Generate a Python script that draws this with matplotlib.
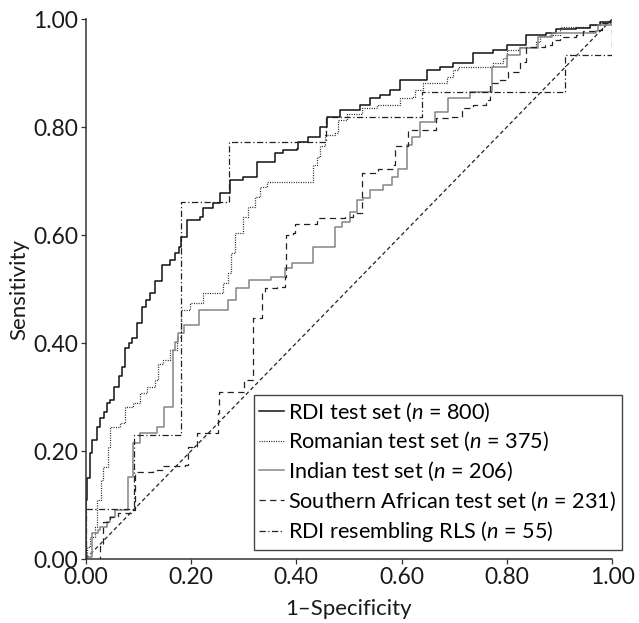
import matplotlib
matplotlib.use("Agg")
import matplotlib.pyplot as plt

plt.rcParams['font.family'] = ['Lato', 'DejaVu Sans']
plt.rcParams['mathtext.fontset'] = 'custom'
plt.rcParams['mathtext.rm'] = 'Lato'
plt.rcParams['mathtext.it'] = 'Lato:italic'

# ---- data (1-specificity, sensitivity) ----
rdi_fpr = [0.0, 0.0, 0.003, 0.009, 0.012, 0.021, 0.027, 0.034, 0.041, 0.046, 0.053, 0.063, 0.070, 0.074, 0.082, 0.088,
           0.097, 0.107, 0.115, 0.123, 0.132, 0.145, 0.161, 0.170, 0.177, 0.181, 0.192, 0.217, 0.223, 0.242,
           0.255, 0.274, 0.299, 0.325, 0.359, 0.375, 0.401, 0.403, 0.422, 0.441, 0.445, 0.458, 0.483, 0.521,
           0.540, 0.559, 0.578, 0.597, 0.648, 0.673, 0.698, 0.736, 0.774, 0.800, 0.837, 0.875, 0.894, 0.932,
           0.958, 0.977, 1.0]
rdi_tpr = [0.0, 0.109, 0.150, 0.196, 0.220, 0.244, 0.262, 0.272, 0.288, 0.294, 0.319, 0.338, 0.356, 0.390, 0.400, 0.410,
           0.437, 0.467, 0.480, 0.492, 0.514, 0.544, 0.554, 0.566, 0.578, 0.597, 0.628, 0.634, 0.650, 0.659,
           0.678, 0.702, 0.708, 0.736, 0.752, 0.757, 0.760, 0.773, 0.781, 0.782, 0.800, 0.819, 0.831, 0.841,
           0.854, 0.859, 0.869, 0.887, 0.906, 0.912, 0.918, 0.937, 0.943, 0.952, 0.970, 0.975, 0.981, 0.983,
           0.989, 0.995, 1.0]

rom_fpr = [0.0, 0.003, 0.008, 0.018, 0.021, 0.030, 0.033, 0.043, 0.046, 0.065, 0.075, 0.090, 0.103, 0.116, 0.132,
           0.138, 0.147, 0.160, 0.173, 0.182, 0.198, 0.223, 0.255, 0.261, 0.271, 0.277, 0.284, 0.299, 0.309,
           0.321, 0.331, 0.344, 0.375, 0.432, 0.439, 0.445, 0.454, 0.473, 0.480, 0.496, 0.524, 0.553, 0.591,
           0.597, 0.619, 0.625, 0.641, 0.679, 0.686, 0.698, 0.708, 0.768, 0.774, 0.793, 0.800, 0.824, 0.856,
           0.863, 0.882, 0.901, 0.958, 0.977, 1.0, 1.0]
rom_tpr = [0.0, 0.023, 0.040, 0.060, 0.109, 0.146, 0.171, 0.208, 0.245, 0.252, 0.282, 0.288, 0.307, 0.319, 0.331,
           0.362, 0.369, 0.387, 0.412, 0.461, 0.474, 0.492, 0.492, 0.511, 0.529, 0.566, 0.603, 0.634, 0.652,
           0.671, 0.689, 0.699, 0.699, 0.730, 0.745, 0.764, 0.785, 0.788, 0.813, 0.825, 0.835, 0.841, 0.841,
           0.853, 0.856, 0.869, 0.881, 0.881, 0.893, 0.906, 0.912, 0.912, 0.918, 0.927, 0.943, 0.949, 0.958,
           0.968, 0.970, 0.985, 0.989, 0.993, 0.998, 1.0]

ind_fpr = [0.0, 0.011, 0.013, 0.024, 0.027, 0.040, 0.046, 0.056, 0.081, 0.090, 0.103, 0.135, 0.148, 0.166,
           0.170, 0.176, 0.186, 0.216, 0.270, 0.285, 0.311, 0.350, 0.353, 0.378, 0.391, 0.432, 0.473, 0.486,
           0.502, 0.515, 0.527, 0.541, 0.565, 0.581, 0.594, 0.610, 0.619, 0.635, 0.651, 0.663, 0.689, 0.730,
           0.771, 0.796, 0.800, 0.821, 0.825, 0.856, 0.859, 0.882, 0.885, 0.970, 0.973, 1.0, 1.0]
ind_tpr = [0.004, 0.004, 0.048, 0.054, 0.060, 0.069, 0.078, 0.091, 0.152, 0.214, 0.233, 0.245, 0.282, 0.387,
           0.402, 0.418, 0.433, 0.461, 0.480, 0.501, 0.517, 0.517, 0.523, 0.538, 0.548, 0.578, 0.615, 0.625,
           0.643, 0.665, 0.668, 0.683, 0.693, 0.708, 0.723, 0.767, 0.782, 0.810, 0.810, 0.828, 0.853, 0.864,
           0.912, 0.912, 0.933, 0.933, 0.946, 0.946, 0.966, 0.966, 0.975, 0.978, 0.989, 0.989, 1.0]

saf_fpr = [0.0, 0.027, 0.033, 0.046, 0.062, 0.090, 0.094, 0.128, 0.147, 0.189, 0.195, 0.211, 0.237, 0.252,
           0.254, 0.287, 0.301, 0.317, 0.335, 0.341, 0.363, 0.378, 0.380, 0.394, 0.398, 0.420, 0.439, 0.492,
           0.508, 0.524, 0.524, 0.556, 0.584, 0.587, 0.606, 0.613, 0.651, 0.666, 0.692, 0.714, 0.736, 0.761,
           0.768, 0.783, 0.803, 0.821, 0.825, 0.837, 0.872, 0.885, 0.901, 0.932, 0.945, 0.970, 0.980, 1.0]
saf_tpr = [0.0, 0.026, 0.069, 0.078, 0.085, 0.091, 0.162, 0.165, 0.173, 0.174, 0.208, 0.233, 0.233, 0.270,
           0.310, 0.310, 0.331, 0.446, 0.492, 0.501, 0.504, 0.523, 0.600, 0.603, 0.620, 0.620, 0.631, 0.633,
           0.640, 0.668, 0.714, 0.723, 0.730, 0.764, 0.764, 0.794, 0.794, 0.816, 0.819, 0.835, 0.841, 0.850,
           0.881, 0.887, 0.902, 0.902, 0.921, 0.949, 0.952, 0.961, 0.967, 0.970, 0.978, 0.980, 0.993, 1.0]

rls_fpr = [0.0, 0.0, 0.091, 0.181, 0.272, 0.456, 0.638, 0.910, 0.990, 1.0]
rls_tpr = [0.0, 0.092, 0.230, 0.661, 0.773, 0.819, 0.864, 0.933, 0.933, 1.0]

labels = ['RDI test set ($n$ = 800)', 'Romanian test set ($n$ = 375)', 'Indian test set ($n$ = 206)',
          'Southern African test set ($n$ = 231)', 'RDI resembling RLS ($n$ = 55)']
ticks = [0.0, 0.2, 0.4, 0.6, 0.8, 1.0]
tick_labels = ['0.00', '0.20', '0.40', '0.60', '0.80', '1.00']

fig = plt.figure(figsize=(6.39, 6.23), dpi=100)
ax = fig.add_axes([0.134, 0.1027, 0.824, 0.8668])

ax.plot([0, 1], [0, 1], color='#222222', lw=0.9, dashes=(3.2, 2.2))
ax.plot(rdi_fpr, rdi_tpr, drawstyle='steps-post', color='#111111', lw=1.1, label=labels[0])
ax.plot(rom_fpr, rom_tpr, drawstyle='steps-post', color='#222222', lw=0.9, dashes=(0.8, 1.1), label=labels[1])
ax.plot(ind_fpr, ind_tpr, drawstyle='steps-post', color='#858585', lw=1.1, label=labels[2])
ax.plot(saf_fpr, saf_tpr, drawstyle='steps-post', color='#222222', lw=0.9, dashes=(5, 3.5), label=labels[3])
ax.plot(rls_fpr, rls_tpr, drawstyle='steps-post', color='#222222', lw=0.9, dashes=(5, 2, 1, 2), label=labels[4])

ax.set_xlim(0, 1)
ax.set_ylim(0, 1)
ax.set_xticks(ticks)
ax.set_xticklabels(tick_labels)
ax.set_yticks(ticks)
ax.set_yticklabels(tick_labels)
for s in ['top', 'right']:
    ax.spines[s].set_visible(False)
for s in ['left', 'bottom']:
    ax.spines[s].set_linewidth(1.1)
    ax.spines[s].set_color('#333333')
ax.tick_params(direction='out', length=3.5, width=0.9, labelsize=16.5, colors='#333333', labelcolor='#1a1a1a', pad=2)
ax.set_xlabel('1\u2013Specificity', fontsize=16, color='#1a1a1a', labelpad=8)
ax.set_ylabel('Sensitivity', fontsize=16, color='#1a1a1a', labelpad=3)

leg = ax.legend(loc='lower right', bbox_to_anchor=(1.018, 0.017), fontsize=15.6, frameon=True, fancybox=False,
                handlelength=1.15, handletextpad=0.2, borderaxespad=0, borderpad=0.25, labelspacing=0.3,
                edgecolor='#444444', framealpha=1)
leg.get_frame().set_linewidth(1.0)

fig.savefig('out.png', dpi=100)
